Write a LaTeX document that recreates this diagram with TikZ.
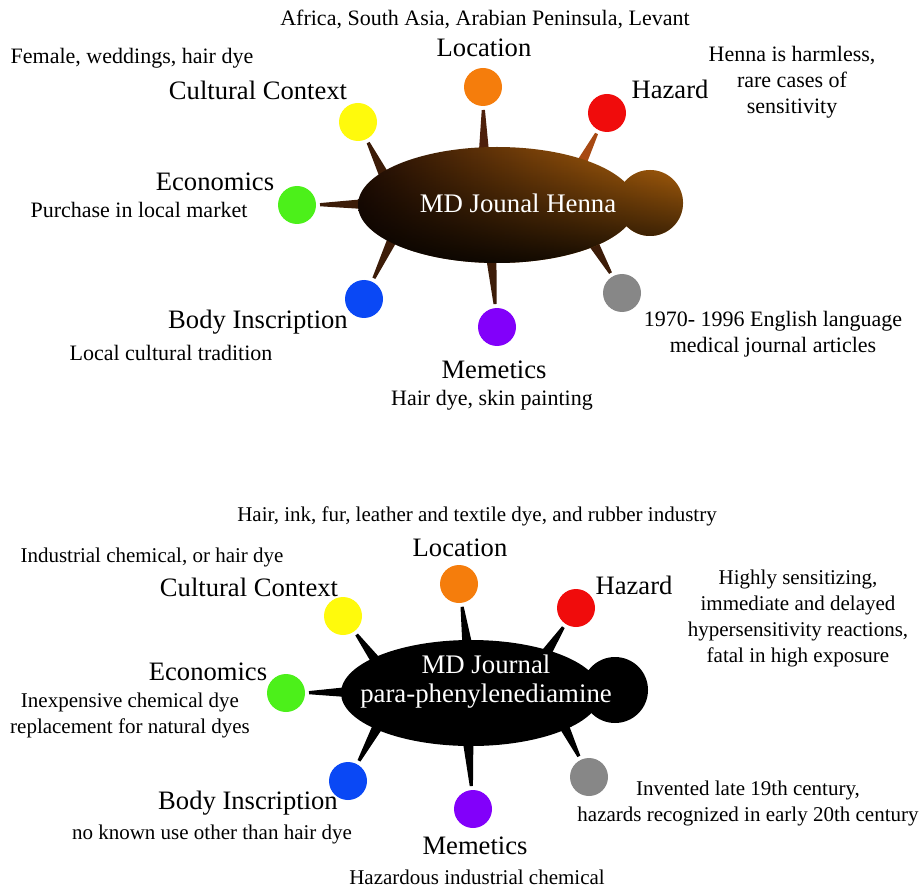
\documentclass[tikz,border=0pt]{standalone}
\usepackage{fontspec}
\setmainfont{Liberation Serif}
\usetikzlibrary{calc,fadings,positioning}

\definecolor{locorange}{RGB}{245,125,12}
\definecolor{hazred}{RGB}{240,12,12}
\definecolor{cultyellow}{RGB}{255,250,12}
\definecolor{econgreen}{RGB}{76,240,26}
\definecolor{inscrblue}{RGB}{10,72,245}
\definecolor{mempurple}{RGB}{130,0,250}
\definecolor{dategray}{RGB}{135,135,135}
\definecolor{hennadark}{RGB}{35,14,4}
\definecolor{hennared}{RGB}{150,50,22}
\definecolor{hennaorange}{RGB}{192,108,14}
\definecolor{hennaspike}{RGB}{60,28,8}

\tikzfading[name=darkbottom, top color=transparent!100, middle color=transparent!70, bottom color=transparent!5]

\tikzset{
  ball/.style={circle, minimum size=19pt, inner sep=0pt, fill=#1},
  topic/.style={font=\fontsize{13.3}{16}\selectfont, inner sep=0pt},
  note/.style={font=\fontsize{11}{13}\selectfont, align=center, inner sep=0pt},
  snote/.style={note, font=\fontsize{10.5}{13}\selectfont},
  centre/.style={font=\fontsize{13.4}{14.5}\selectfont, align=center, text=white, inner sep=0pt}
}

% tapered stalk from a ball to the body
\newcommand{\stalk}[3]{%
  \path ($(#1)!11.5pt!(#2)$) coordinate (sA);
  \fill[#3] ($(sA)!0.8pt!90:(#2)$) -- ($(#2)!2.7pt!-90:(sA)$)
    -- ($(#2)!2.7pt!90:(sA)$) -- ($(sA)!0.8pt!-90:(#2)$) -- cycle;}

\begin{document}
\begin{tikzpicture}[x=0.5pt, y=-0.5pt]
    \useasboundingbox (0,0) rectangle (919,887);

    % ===== Henna =====
    \node[ball=locorange]  (hLoc)  at (483,87)  {};
    \node[ball=hazred]     (hHaz)  at (607,113) {};
    \node[ball=cultyellow] (hCult) at (358,122) {};
    \node[ball=econgreen]  (hEcon) at (297,205) {};
    \node[ball=inscrblue]  (hIns)  at (364,299) {};
    \node[ball=mempurple]  (hMem)  at (497,327) {};
    \node[ball=dategray]   (hDate) at (622,293) {};

    % stalk ends inside the body
    \coordinate (hLocIn)  at (484,156);
    \coordinate (hHazIn)  at (580,166);
    \coordinate (hCultIn) at (386,179);
    \coordinate (hEconIn) at (370,204);
    \coordinate (hInsIn)  at (395,234);
    \coordinate (hMemIn)  at (491,254);
    \coordinate (hDateIn) at (592,241);

    \stalk{hLoc}{hLocIn}{hennaspike!80!hennared}
    \stalk{hHaz}{hHazIn}{hennared!60!hennaorange}
    \stalk{hCult}{hCultIn}{hennaspike}
    \stalk{hEcon}{hEconIn}{hennaspike}
    \stalk{hIns}{hInsIn}{hennaspike}
    \stalk{hMem}{hMemIn}{hennaspike}
    \stalk{hDate}{hDateIn}{hennaspike}

    % body
    \shade[left color=hennadark, middle color=hennared, right color=hennaorange]
      (497,205) ellipse [x radius=69.5pt, y radius=29pt]
      (650,203) circle [radius=16.5pt];
    \fill[black, path fading=darkbottom, fill opacity=0.9]
      (497,205) ellipse [x radius=69.5pt, y radius=29pt]
      (650,203) circle [radius=16.5pt];
    \node[centre] (hName) at (518,203) {MD Jounal Henna};

    % labels
    \node[note]  (hLocNote)  at (485,19)  {Africa, South Asia, Arabian Peninsula, Levant};
    \node[topic] (hLocT)     at (484,48)  {Location};
    \node[topic] (hHazT)     at (670,89)  {Hazard};
    \node[note]  (hHazNote)  at (792,82)  {Henna is harmless,\\rare cases of\\sensitivity};
    \node[note]  (hCultNote) at (132,58)  {Female, weddings, hair dye};
    \node[topic] (hCultT)    at (258,90)  {Cultural Context};
    \node[topic] (hEconT)    at (215,182) {Economics};
    \node[note]  (hEconNote) at (139,210) {Purchase in local market};
    \node[topic] (hInsT)     at (258,322) {Body Inscription};
    \node[note]  (hInsNote)  at (171,353) {Local cultural tradition};
    \node[topic] (hMemT)     at (494,370) {Memetics};
    \node[note]  (hMemNote)  at (492,400) {Hair dye, skin painting};
    \node[note]  (hDateNote) at (773,334) {1970- 1996 English language\\medical journal articles};

    % ===== para-phenylenediamine =====
    \node[ball=locorange]  (pLoc)  at (459,584) {};
    \node[ball=hazred]     (pHaz)  at (576,608) {};
    \node[ball=cultyellow] (pCult) at (343,616) {};
    \node[ball=econgreen]  (pEcon) at (286,693) {};
    \node[ball=inscrblue]  (pIns)  at (348,781) {};
    \node[ball=mempurple]  (pMem)  at (473,809) {};
    \node[ball=dategray]   (pDate) at (589,777) {};

    \coordinate (pLocIn)  at (468,650);
    \coordinate (pHazIn)  at (545,655);
    \coordinate (pCultIn) at (379,665);
    \coordinate (pEconIn) at (352,692);
    \coordinate (pInsIn)  at (379,724);
    \coordinate (pMemIn)  at (468,740);
    \coordinate (pDateIn) at (562,722);

    \foreach \k in {Loc,Haz,Cult,Econ,Ins,Mem,Date}
      \stalk{p\k}{p\k In}{black};

    \fill[black]
      (471,693) ellipse [x radius=65pt, y radius=26.5pt]
      (615,690) circle [radius=16.5pt];
    \node[centre] (pName) at (486,682) {MD Journal\\para-phenylenediamine};

    \node[snote] (pLocNote)  at (477,516) {Hair, ink, fur, leather and textile dye, and rubber industry};
    \node[topic] (pLocT)     at (460,548) {Location};
    \node[topic] (pHazT)     at (634,585) {Hazard};
    \node[snote] (pHazNote)  at (798,618) {Highly sensitizing,\\immediate and delayed\\hypersensitivity reactions,\\fatal in high exposure};
    \node[snote] (pCultNote) at (152,557) {Industrial chemical, or hair dye};
    \node[topic] (pCultT)    at (249,587) {Cultural Context};
    \node[topic] (pEconT)    at (208,672) {Economics};
    \node[snote] (pEconNote) at (130,715) {Inexpensive chemical dye\\replacement for natural dyes};
    \node[topic] (pInsT)     at (248,803) {Body Inscription};
    \node[snote] (pInsNote)  at (212,834) {no known use other than hair dye};
    \node[topic] (pMemT)     at (475,846) {Memetics};
    \node[snote] (pMemNote)  at (477,877) {Hazardous industrial chemical};
    \node[snote] (pDateNote) at (748,803) {Invented late 19th century,\\hazards recognized in early 20th century};
\end{tikzpicture}
\end{document}
